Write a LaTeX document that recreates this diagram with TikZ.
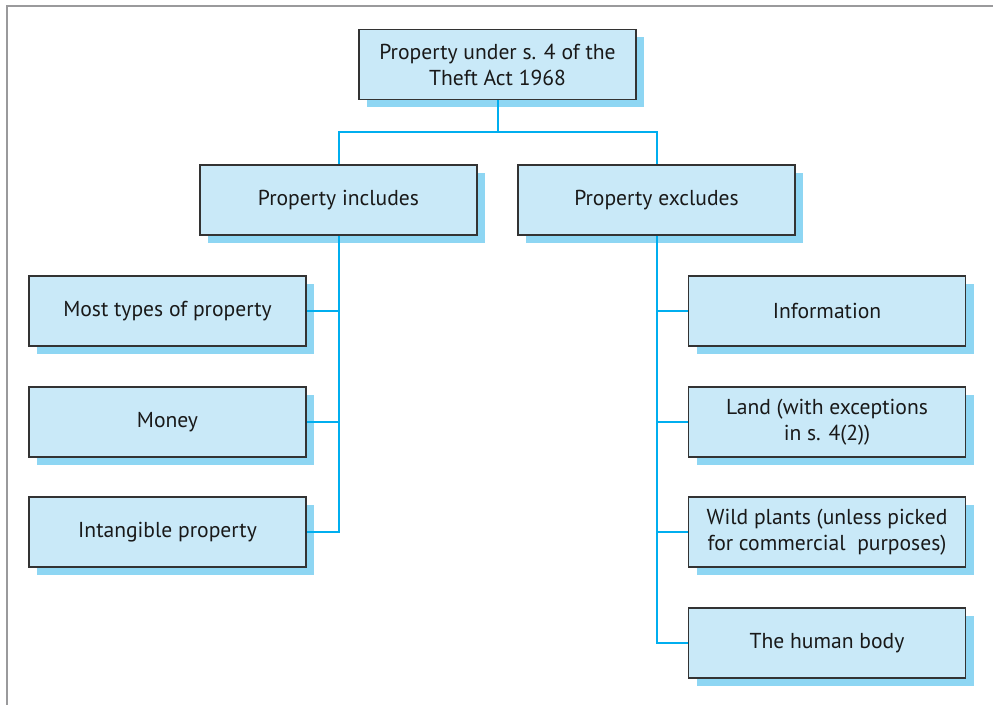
\documentclass[tikz,border=0pt]{standalone}
\usepackage{fontspec}
\setmainfont{PT Sans}
\definecolor{boxblue}{HTML}{C9E9F8}
\definecolor{shadeblue}{HTML}{8ED6F3}
\definecolor{linkblue}{HTML}{00AEEF}
\definecolor{framegray}{HTML}{9A9A9C}
\usetikzlibrary{shadows}

\begin{document}
\begin{tikzpicture}[x=.75pt,y=-.75pt,
    card/.style={draw=black!80,line width=.9pt,fill=boxblue,
      minimum width=207.75pt,minimum height=52.5pt,inner sep=0,
      align=center,font=\fontsize{16.2}{19.5}\selectfont,text=black!90,
      drop shadow={shadow xshift=6pt,shadow yshift=-6pt,
        fill=shadeblue,opacity=1}},
    link/.style={linkblue,line width=1.5pt}]
      \path[use as bounding box] (0,0) rectangle (993,705);
      \draw[framegray,line width=2pt] (7,705) -- (7,6) -- (993,6);
      \node[card] (top) at (497.5,64.5) {Property under s. 4 of the\\Theft Act 1968};
      \node[card] (inc) at (338.5,200) {Property includes};
      \node[card] (exc) at (656.5,200) {Property excludes};
      \node[card] (mosttypes) at (167.5,311) {Most types of property};
      \node[card] (money) at (167.5,422) {Money};
      \node[card] (intangible) at (167.5,532) {Intangible property};
      \node[card] (information) at (827,311) {Information};
      \node[card] (land) at (827,422) {Land (with exceptions\\in s. 4(2))};
      \node[card] (wildplants) at (827,532) {Wild plants (unless picked\\for commercial\ \ purposes)};
      \node[card] (body) at (827,643) {The human body};
      \coordinate (split) at (497.5,132);
      \draw[link] (top.south) -- (split) -| (inc.north);
      \draw[link] (split) -| (exc.north);
      \draw[link] (inc.south) |- (intangible.east);
      \foreach \item in {mosttypes,money}{
        \draw[link] (\item.east) -- (\item.east -| inc.south);
      }
      \draw[link] (exc.south) |- (body.west);
      \foreach \item in {information,land,wildplants}{
        \draw[link] (\item.west) -- (\item.west -| exc.south);
      }
    \end{tikzpicture}
\end{document}
